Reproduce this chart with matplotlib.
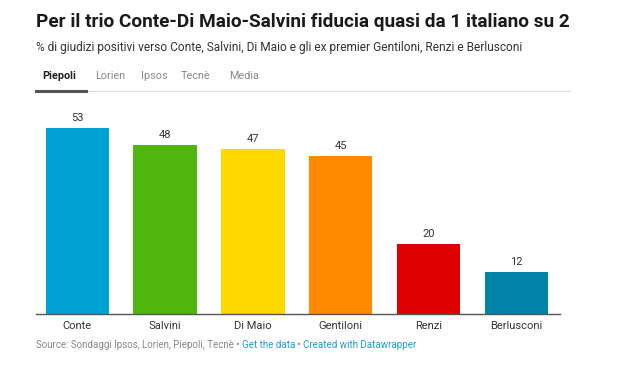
import matplotlib.pyplot as plt
from matplotlib.lines import Line2D

# dati
names = ['Conte', 'Salvini', 'Di Maio', 'Gentiloni', 'Renzi', 'Berlusconi']
values = [53, 48, 47, 45, 20, 12]
colors = ['#00a2d4', '#51b50f', '#ffd800', '#ff8a00', '#dc0000', '#0083a6']
tabs = ['Piepoli', 'Lorien', 'Ipsos', 'Tecnè', 'Media']

plt.rcParams['font.family'] = ['Roboto', 'DejaVu Sans']

fig = plt.figure(figsize=(6.2, 3.68), dpi=100)
ax = fig.add_axes([0.058, 0.1467, 0.845, 0.5543])

x = range(len(names))
bars = ax.bar(x, values, width=0.72, color=colors)
for b, v in zip(bars, values):
    ax.text(b.get_x() + b.get_width() / 2, v + 1.5, str(v), ha='center', va='bottom',
            fontsize=8, color='#333333')

ax.set_xlim(-0.47, 5.495)
ax.set_ylim(0, 58.1)
ax.set_xticks(list(x))
ax.set_xticklabels(names, fontsize=8, color='#333333')
ax.tick_params(axis='x', length=0, pad=5)
ax.set_yticks([])
for s in ['top', 'right', 'left']:
    ax.spines[s].set_visible(False)
ax.spines['bottom'].set_color('#555555')
ax.spines['bottom'].set_linewidth(1)

# titolo e sottotitolo
fig.text(36 / 620, 1 - 22 / 368, 'Per il trio Conte-Di Maio-Salvini fiducia quasi da 1 italiano su 2',
         fontsize=13.7, fontweight='bold', color='#1a1a1a', va='center')
fig.text(36 / 620, 1 - 48 / 368,
         '% di giudizi positivi verso Conte, Salvini, Di Maio e gli ex premier Gentiloni, Renzi e Berlusconi',
         fontsize=8.6, color='#333333', va='center')

# schede
tab_x = [42, 95, 141, 181, 229]
for i, (t, tx) in enumerate(zip(tabs, tab_x)):
    fig.text(tx / 620, 1 - 76 / 368, t, fontsize=7.8, va='center',
             color='#222222' if i == 0 else '#888888',
             fontweight='bold' if i == 0 else 'normal')
fig.add_artist(Line2D([36 / 620, 570 / 620], [1 - 91 / 368] * 2, color='#dddddd', lw=0.8))
fig.add_artist(Line2D([36 / 620, 86 / 620], [1 - 90.5 / 368] * 2, color='#555555', lw=2.2))

# fonte
parts = [('Source: Sondaggi Ipsos, Lorien, Piepoli, Tecnè • ', '#888888'),
         ('Get the data', '#1a9fcf'),
         (' • ', '#888888'),
         ('Created with Datawrapper', '#1a9fcf')]
fig.canvas.draw()
xpos = 36 / 620
for txt, c in parts:
    t = fig.text(xpos, 1 - 345 / 368, txt, fontsize=7, color=c, va='center')
    bb = t.get_window_extent(renderer=fig.canvas.get_renderer())
    xpos = bb.x1 / fig.bbox.width

fig.savefig('out.png', dpi=100)
